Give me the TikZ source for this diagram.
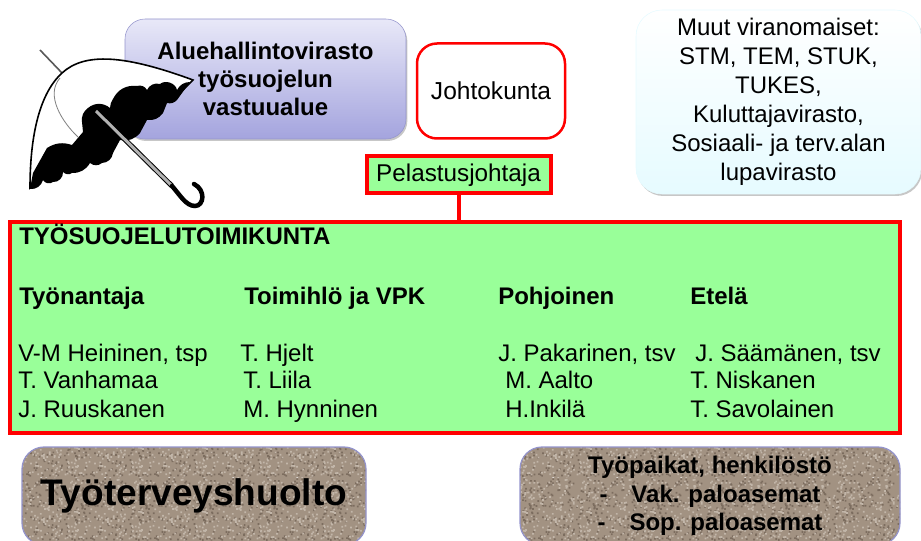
\documentclass[tikz,border=0pt]{standalone}
\usepackage{fontspec}
\setmainfont{Liberation Sans}
\usepackage{xcolor}
\usepackage{tikz}
\usetikzlibrary{shadows,patterns}
\definecolor{panelgreen}{HTML}{99FF99}
\definecolor{stonebase}{HTML}{A29282}
\definecolor{stonedark}{HTML}{7C6D5F}
\definecolor{stonelight}{HTML}{C2B6A9}
\definecolor{aviedge}{HTML}{9494CC}
\definecolor{avitop}{HTML}{E8E8F8}
\definecolor{avibot}{HTML}{A4A4DE}
\definecolor{muutbot}{HTML}{E6FBFF}
\def\px{.75pt}

% speckled tiles for the stone boxes
\pgfmathsetseed{4242}
\newcommand{\speckletile}[1]{%
  \pgfdeclarepatternformonly{#1}{\pgfqpoint{0pt}{0pt}}{\pgfqpoint{48pt}{48pt}}{\pgfqpoint{48pt}{48pt}}{%
    \foreach \i in {1,...,170} {
      \pgfmathsetmacro{\ptx}{rnd*46.5}
      \pgfmathsetmacro{\pty}{rnd*46.5}
      \pgfpathrectangle{\pgfqpoint{\ptx pt}{\pty pt}}{\pgfqpoint{1.3pt}{1.3pt}}
    }
    \pgfusepath{fill}}}
\speckletile{speckledark}
\speckletile{specklelight}

\begin{document}
\begin{tikzpicture}[x=.75pt, y=-.75pt,
  lbl/.style={anchor=west, inner sep=0pt, text height=.72em, text depth=.22em, font=\fontsize{18}{20}\selectfont},
  lblb/.style={lbl, font=\fontsize{18}{20}\selectfont\bfseries},
  softshadow/.style={drop shadow={shadow xshift=1pt, shadow yshift=-1.5pt, opacity=.22, fill=black}},
  box/.style={draw, rounded corners=20*\px, align=center, inner sep=0pt, outer sep=0pt},
  redbox/.style={draw=red, line width=4*\px, inner sep=0pt, outer sep=0pt, align=center, fill=panelgreen},
  stone/.style={box, draw=aviedge, line width=1.2*\px, rounded corners=22*\px,
    preaction={fill=stonebase}, preaction={pattern=speckledark, pattern color=stonedark},
    pattern=specklelight, pattern color=stonelight},
]
\useasboundingbox (0,0) rectangle (921,541);

% top row
\node[box, softshadow, draw=aviedge, top color=avitop, bottom color=avibot,
  minimum width=281*\px, minimum height=120*\px, font=\fontsize{18}{21}\selectfont\bfseries] (avi) at (265.5,79)
  {Aluehallintovirasto\\ työsuojelun\\ vastuualue};
\node[box, draw=red, line width=2.5*\px, fill=white, minimum width=148*\px, minimum height=95*\px,
  font=\fontsize{18.4}{20}\selectfont] (johto) at (491,91) {Johtokunta};
\node[box, softshadow, draw=muutbot, top color=white, bottom color=muutbot, rounded corners=26*\px,
  minimum width=285*\px, minimum height=184*\px, font=\fontsize{18}{21.8}\selectfont] (muut) at (778.5,102)
  {Muut viranomaiset:\\ STM, TEM, STUK,\\ TUKES,\\ Kuluttajavirasto,\\ Sosiaali- ja terv.alan\\ lupavirasto};
\node[redbox, minimum width=184*\px, minimum height=37*\px,
  font=\fontsize{18.2}{20}\selectfont] (pelastus) at (458.5,175) {Pelastusjohtaja};

% main panel
\node[redbox, minimum width=890*\px, minimum height=211*\px] (tsto) at (455,327.5) {};
\draw[red, line width=4*\px] (pelastus.south) -- (pelastus.south |- tsto.north);

\node[lblb] (otsikko) at (19,241) {TYÖSUOJELUTOIMIKUNTA};
\node[lblb] (tyonantaja) at (19,301) {Työnantaja};
\node[lblb] (toimihlo) at (244,301) {Toimihlö ja VPK};
\node[lblb] (pohjoinen) at (498,301) {Pohjoinen};
\node[lblb] (etela) at (690,301) {Etelä};

\node[lbl] (heininen) at (18,358) {V-M Heininen, tsp};
\node[lbl] (vanhamaa) at (18,385) {T. Vanhamaa};
\node[lbl] (ruuskanen) at (18,414) {J. Ruuskanen};
\node[lbl] (hjelt) at (240,358) {T. Hjelt};
\node[lbl] (liila) at (243,385) {T. Liila};
\node[lbl] (hynninen) at (243,414) {M. Hynninen};
\node[lbl] (pakarinen) at (498,358) {J. Pakarinen, tsv};
\node[lbl] (aalto) at (505,385) {M. Aalto};
\node[lbl] (inkila) at (505,414) {H.Inkilä};
\node[lbl] (saamanen) at (695,358) {J. Säämänen, tsv};
\node[lbl] (niskanen) at (690,385) {T. Niskanen};
\node[lbl] (savolainen) at (690,414) {T. Savolainen};

% bottom row
\node[stone, minimum width=344*\px, minimum height=98*\px, font=\fontsize{27.8}{30}\selectfont\bfseries] (tth) at (194,496) {Työterveyshuolto};
\node[stone, minimum width=380*\px, minimum height=98*\px, font=\fontsize{18}{21.5}\selectfont\bfseries] (tyopaikat) at (710,496)
  {Työpaikat, henkilöstö\\ -\quad Vak. paloasemat\\ -\quad Sop. paloasemat};

% umbrella
\draw[gray!70!black, line width=1.6*\px] (40,50) -- (62,73);
\filldraw[fill=white, draw=black, line width=1.6*\px] (30,188)
  .. controls (30,140) and (38,95) .. (62,73)
  .. controls (85,52) and (125,55) .. (193,80)
  -- (177,96) -- (110,125) -- (60,165) -- cycle;
\draw[gray, line width=.8*\px] (78,137) .. controls (62,122) and (45,95) .. (60,78);
\fill[black] (190,82) to[bend right=30] (177,90) to[bend right=60] (160,84) to[bend right=40] (147,90)
  to[bend right=40] (137,86) to[bend right=35] (113,99) to[bend right=15] (110,108)
  to[bend right=40] (88,108) to[bend right=30] (82,122) -- (83,132) -- (72,145)
  to[bend right=25] (47,148) -- (33,173) -- (30,189)
  to[bend right=40] (43,180) to[bend right=50] (53,182) to[bend right=50] (63,172) to[bend right=40] (72,173)
  to[bend right=30] (90,163) to[bend right=40] (102,163) to[bend right=40] (113,153) -- (120,140)
  to[bend right=30] (140,133) -- (147,120) to[bend right=30] (163,113) -- (167,103)
  to[bend right=30] (177,100) -- cycle;
\draw[black, line width=5*\px] (96,111) -- (172,186);
\draw[black!30, line width=3*\px] (96,111) -- (172,186);
\draw[black, line width=4.5*\px, line cap=round] (172,186) .. controls (180,195) and (186,206) .. (195,206)
  .. controls (204,206) and (206,190) .. (194,184);
\end{tikzpicture}
\end{document}
